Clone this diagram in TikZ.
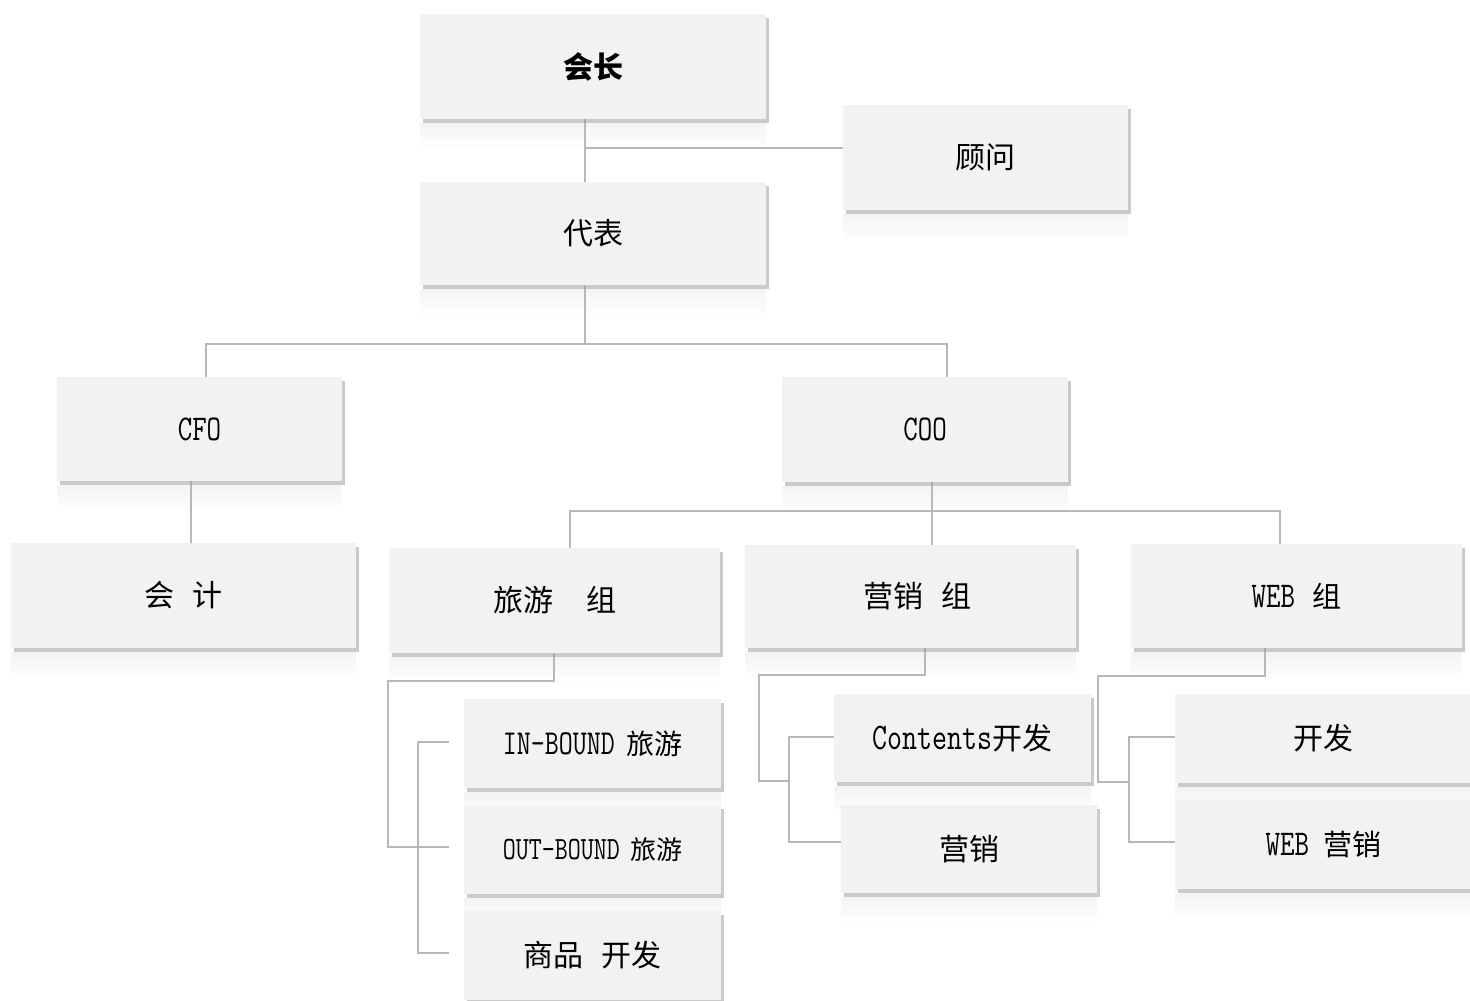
\documentclass[tikz,border=0pt]{standalone}
\usepackage{fontspec}
\usepackage{graphicx}
\setmainfont{Noto Sans CJK SC}
\usetikzlibrary{shadows}
\definecolor{boxfill}{HTML}{F2F2F2}
\definecolor{linegray}{HTML}{B8B8B8}
\pgfdeclarelayer{reflayer}
\pgfdeclarelayer{linelayer}
\pgfsetlayers{reflayer,linelayer,main}
\tikzset{
  orgbox/.style={fill=boxfill, draw=none, inner sep=0pt, align=center,
    drop shadow={shadow xshift=3pt, shadow yshift=-4pt, fill=gray!75, opacity=0.55}},
  link/.style={draw=linegray, line width=1.1pt},
  refl/.style={top color=gray!9, bottom color=white, draw=none},
}
\newcommand\lat[1]{\scalebox{0.97}[1.25]{\ttfamily #1}}
\newcommand\orgb[7]{%
  \begin{pgfonlayer}{reflayer}
  \fill[refl] (#2,#5+6) rectangle (#4,#5+34);
  \end{pgfonlayer}
  \node[orgbox, minimum width={(#4-#2)*1pt}, minimum height={(#5-#3)*1pt},
        font=\fontsize{#7}{#7}\selectfont] (#1) at ({(#2+#4)/2},{(#3+#5)/2+2}) {#6};
}
\begin{document}
\begin{tikzpicture}[x=1pt,y=-1pt]
\useasboundingbox (0,0) rectangle (1470,1001);
% boxes
\orgb{pres}{420}{12}{766}{117}{\bfseries 会长}{30}
\orgb{adv}{843}{103}{1128}{208}{顾问}{30}
\orgb{rep}{420}{180}{766}{283}{代表}{30}
\orgb{cfo}{57}{375}{342}{479}{\lat{CFO}}{29}
\orgb{coo}{782}{375}{1068}{480}{\lat{COO}}{29}
\orgb{acc}{11}{541}{356}{646}{会\hspace{0.6em}计}{30}
\orgb{trav}{389}{546}{720}{651}{旅游\hspace{1.1em}组}{30}
\orgb{mkt}{745}{543}{1076}{646}{\hspace{14pt}营销\hspace{0.6em}组}{30}
\orgb{web}{1131}{542}{1462}{646}{\lat{WEB}\hspace{0.6em}组}{29}
\orgb{inb}{464}{697}{721}{786}{\lat{IN-BOUND}\hspace{0.4em}旅游}{28}
\orgb{outb}{464}{803}{721}{892}{\lat{OUT-BOUND}\hspace{0.4em}旅游}{26}
\orgb{prod}{464}{909}{721}{998}{商品\hspace{0.6em}开发}{30}
\orgb{cont}{834}{692}{1091}{780}{\lat{Contents}开发}{30}
\orgb{mk2}{841}{803}{1097}{891}{营销}{30}
\orgb{dev}{1175}{692}{1472}{781}{开发}{30}
\orgb{wmk}{1175}{797}{1472}{887}{\lat{WEB}\hspace{0.5em}营销}{29}

\begin{pgfonlayer}{linelayer}
\coordinate (j1) at (585,148);
\coordinate (j2a) at (585,344);
\coordinate (j2l) at (206,344);
\coordinate (j2r) at (947,344);
\coordinate (j3a) at (932,511);
\coordinate (j3l) at (570,511);
\coordinate (j3r) at (1280,511);
\coordinate (t1) at (554,681);
\coordinate (t2) at (388,681);
\coordinate (t3) at (388,847);
\coordinate (t4) at (449,847);
\coordinate (tb1) at (418,742);
\coordinate (tb1e) at (449,742);
\coordinate (tb2) at (418,953);
\coordinate (tb2e) at (449,953);
\coordinate (m1) at (925,675);
\coordinate (m2) at (759,675);
\coordinate (m3) at (759,781);
\coordinate (m4) at (789,781);
\coordinate (mb1) at (789,737);
\coordinate (mb1e) at (834,737);
\coordinate (mb2) at (789,842);
\coordinate (mb2e) at (841,842);
\coordinate (w1) at (1265,676);
\coordinate (w2) at (1098,676);
\coordinate (w3) at (1098,782);
\coordinate (w4) at (1129,782);
\coordinate (wb1) at (1129,737);
\coordinate (wb1e) at (1175,737);
\coordinate (wb2) at (1129,842);
\coordinate (wb2e) at (1175,842);

\draw[link] (pres.south -| j1) -- (rep.north -| j1);
\draw[link] (j1) -- (j1 -| adv.west);
\draw[link] (rep.south -| j2a) -- (j2a);
\draw[link] (cfo.north -| j2l) -- (j2l) -- (j2r) -- (coo.north -| j2r);
\draw[link] (cfo.south -| 191,0) -- (acc.north -| 191,0);
\draw[link] (coo.south -| j3a) -- (j3a);
\draw[link] (trav.north -| j3l) -- (j3l) -- (j3r) -- (web.north -| j3r);
\draw[link] (j3a) -- (mkt.north -| j3a);
\draw[link] (trav.south -| t1) -- (t1) -- (t2) -- (t3) -- (t4);
\draw[link] (tb1e) -- (tb1) -- (tb2) -- (tb2e);
\draw[link] (mkt.south -| m1) -- (m1) -- (m2) -- (m3) -- (m4);
\draw[link] (mb1e) -- (mb1) -- (mb2) -- (mb2e);
\draw[link] (web.south -| w1) -- (w1) -- (w2) -- (w3) -- (w4);
\draw[link] (wb1e) -- (wb1) -- (wb2) -- (wb2e);
\end{pgfonlayer}
\end{tikzpicture}
\end{document}
